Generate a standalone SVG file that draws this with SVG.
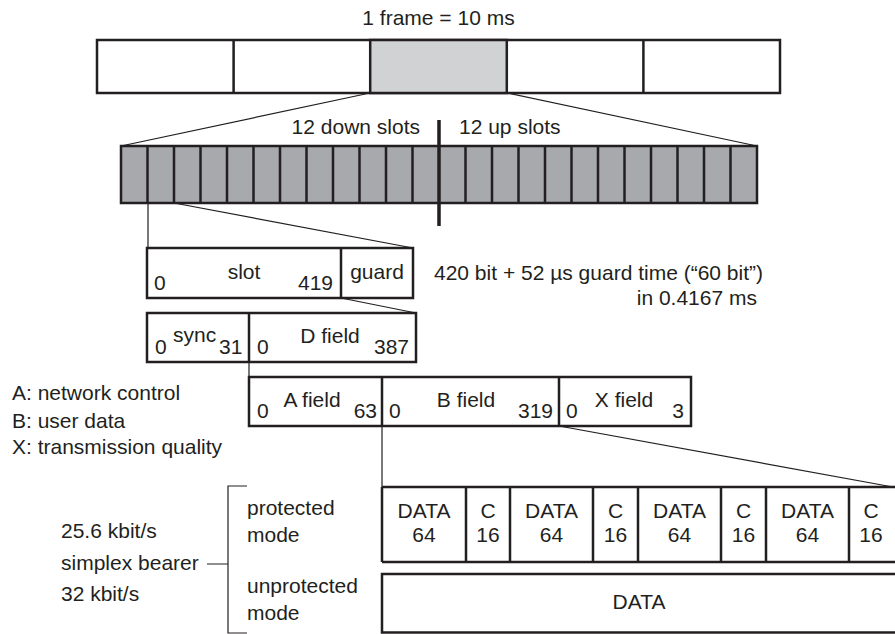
<svg xmlns="http://www.w3.org/2000/svg" width="895" height="634" viewBox="0 0 895 634">
<style>
text{font-family:"Liberation Sans",Arial,sans-serif;font-size:21px;fill:#231f20}
.m{text-anchor:middle}.e{text-anchor:end}
.box{fill:#fff;stroke:#231f20;stroke-width:2.5}
.dv{stroke:#231f20;stroke-width:2.5;fill:none}
.thin{stroke:#231f20;stroke-width:1.2;fill:none}
</style>
<rect width="895" height="634" fill="#fff"/>
<g id="frame">
<text class="m" x="438.5" y="25">1 frame = 10 ms</text>
<rect class="box" x="97" y="40" width="683" height="53"/>
<rect x="370.2" y="40" width="136.6" height="53" fill="#d1d2d4" stroke="#231f20" stroke-width="2.5"/>
<path class="dv" d="M233.6,40V93M643.4,40V93"/>
</g>
<g id="connectors">
<path class="thin" d="M370,93L121,146M507,93L757,146"/>
<path class="thin" d="M148,203V248M174,203L413,248"/>
<path class="thin" d="M341,298L416,313"/>
<path class="thin" d="M249,362V377"/>
<path class="thin" d="M382,426V487M559,426L893,487"/>
<path class="thin" d="M247,486H228V633H247M207,564H228"/>
</g>
<g id="slots">
<rect x="121" y="146" width="636" height="57" fill="#a7a9ac" stroke="#231f20" stroke-width="2.5"/>
<path class="dv" d="M147.5,146V203M174,146V203M200.5,146V203M227,146V203M253.5,146V203M280,146V203M306.5,146V203M333,146V203M359.5,146V203M386,146V203M412.5,146V203M465.5,146V203M492,146V203M518.5,146V203M545,146V203M571.5,146V203M598,146V203M624.5,146V203M651,146V203M677.5,146V203M704,146V203M730.5,146V203"/>
<path d="M439,120V226" stroke="#231f20" stroke-width="3.5"/>
<text class="e" x="420" y="134">12 down slots</text>
<text x="459" y="134">12 up slots</text>
</g>
<g id="slot">
<rect class="box" x="147" y="248" width="266" height="50"/>
<path class="dv" d="M341,248V298"/>
<text x="154" y="290">0</text>
<text class="m" x="244" y="279">slot</text>
<text class="e" x="333" y="290">419</text>
<text class="m" x="377" y="279">guard</text>
<text x="434" y="280">420 bit + 52 µs guard time (“60 bit”)</text>
<text class="e" x="757" y="305">in 0.4167 ms</text>
</g>
<g id="syncd">
<rect class="box" x="147" y="313" width="269" height="49"/>
<path class="dv" d="M249,313V362"/>
<text x="155" y="354">0</text>
<text x="173" y="342">sync</text>
<text x="219" y="354">31</text>
<text x="257" y="354">0</text>
<text class="m" x="330" y="343">D field</text>
<text class="e" x="409" y="354">387</text>
</g>
<g id="abx">
<rect class="box" x="249" y="377" width="442" height="49"/>
<path class="dv" d="M382,377V426M559,377V426"/>
<text x="257" y="418">0</text>
<text class="m" x="312" y="407">A field</text>
<text class="e" x="377" y="418">63</text>
<text x="389" y="418">0</text>
<text class="m" x="466" y="407">B field</text>
<text class="e" x="553" y="418">319</text>
<text x="566" y="418">0</text>
<text class="m" x="624" y="407">X field</text>
<text class="e" x="684" y="418">3</text>
</g>
<g id="legend">
<text x="12" y="400">A: network control</text>
<text x="12" y="428">B: user data</text>
<text x="12" y="454">X: transmission quality</text>
</g>
<g id="bearer">
<text x="61" y="538">25.6 kbit/s</text>
<text x="61" y="570">simplex bearer</text>
<text x="61" y="601">32 kbit/s</text>
<text x="247" y="515">protected</text>
<text x="247" y="542">mode</text>
<text x="247" y="593">unprotected</text>
<text x="247" y="620">mode</text>
</g>
<g id="protected">
<path class="dv" d="M382,487H895M382,562H895M382,487V562M466,487V562M510,487V562M593,487V562M638,487V562M721,487V562M766,487V562M849,487V562"/>
<text class="m" x="424" y="518">DATA</text><text class="m" x="424" y="542">64</text>
<text class="m" x="488" y="518">C</text><text class="m" x="488" y="542">16</text>
<text class="m" x="551.5" y="518">DATA</text><text class="m" x="551.5" y="542">64</text>
<text class="m" x="615.5" y="518">C</text><text class="m" x="615.5" y="542">16</text>
<text class="m" x="679.5" y="518">DATA</text><text class="m" x="679.5" y="542">64</text>
<text class="m" x="743.5" y="518">C</text><text class="m" x="743.5" y="542">16</text>
<text class="m" x="807.5" y="518">DATA</text><text class="m" x="807.5" y="542">64</text>
<text class="m" x="871" y="518">C</text><text class="m" x="871" y="542">16</text>
</g>
<g id="unprotected">
<path class="dv" d="M895,574H382V632.5H895"/>
<text class="m" x="639" y="609">DATA</text>
</g>
</svg>
